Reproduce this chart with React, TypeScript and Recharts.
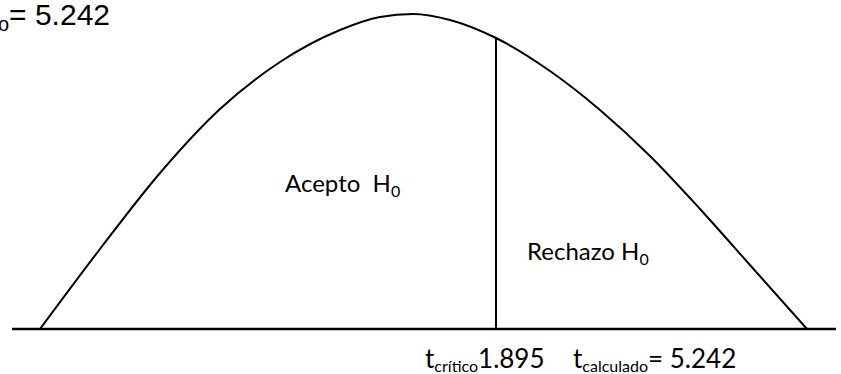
import React from 'react';
import { ComposedChart, Line, XAxis, YAxis, ReferenceLine } from 'recharts';

// curve: x position and height above the baseline
const curveX = [40, 100, 160, 220, 280, 340, 380, 413, 450, 496, 550, 600, 650, 700, 750, 807];
const curveH = [0, 80, 156, 220, 267, 299, 312, 315, 309, 291, 258, 219, 173, 120, 64, 0];

const axisStart = 12;
const axisEnd = 836;
const criticalX = 496;
const criticalH = 291;

const tCritico = '1.895';
const tCalculado = '5.242';

const data = curveX.map((x, i) => ({ x, h: curveH[i] }));

const labelFont = 'Lato, "Open Sans", sans-serif';

export default function App() {
  return (
    <div style={{ position: 'absolute', left: 0, top: 0, width: 841, height: 374, background: '#fff' }}>
      <ComposedChart width={841} height={374} data={data} margin={{ top: 0, right: 0, bottom: 0, left: 0 }}>
        <XAxis dataKey="x" type="number" domain={[0, 841]} hide />
        <YAxis type="number" domain={[-45, 329]} hide />
        <Line
          dataKey="h"
          type="monotone"
          stroke="#000"
          strokeWidth={2}
          dot={false}
          activeDot={false}
          isAnimationActive={false}
        />
        <ReferenceLine
          segment={[{ x: axisStart, y: 0 }, { x: axisEnd, y: 0 }]}
          stroke="#000"
          strokeWidth={2.5}
          ifOverflow="visible"
        />
        <ReferenceLine
          segment={[{ x: criticalX, y: 0 }, { x: criticalX, y: criticalH }]}
          stroke="#000"
          strokeWidth={2}
          ifOverflow="visible"
        />
        <text x={110} y={25} textAnchor="end" fontFamily='"Liberation Sans", Arial, sans-serif' fontSize={30} fill="#000">
          t<tspan fontSize={20} dy={6}>calculado</tspan><tspan dy={-6}>= {tCalculado}</tspan>
        </text>
        <text x={285} y={192} fontFamily={labelFont} fontSize={24} fill="#000">
          Acepto{'\u00a0\u00a0'}H<tspan fontSize={16} dy={5}>0</tspan>
        </text>
        <text x={527} y={260} fontFamily={labelFont} fontSize={24} fill="#000">
          Rechazo H<tspan fontSize={16} dy={5}>0</tspan>
        </text>
        <text x={425} y={368} fontFamily={labelFont} fontSize={26} fill="#000">
          t<tspan fontSize={16} dy={4}>crítico</tspan><tspan dy={-4}>{tCritico}</tspan>
        </text>
        <text x={573} y={368} fontFamily={labelFont} fontSize={26} fill="#000">
          t<tspan fontSize={16} dy={4}>calculado</tspan><tspan dy={-4}>= {tCalculado}</tspan>
        </text>
      </ComposedChart>
    </div>
  );
}
